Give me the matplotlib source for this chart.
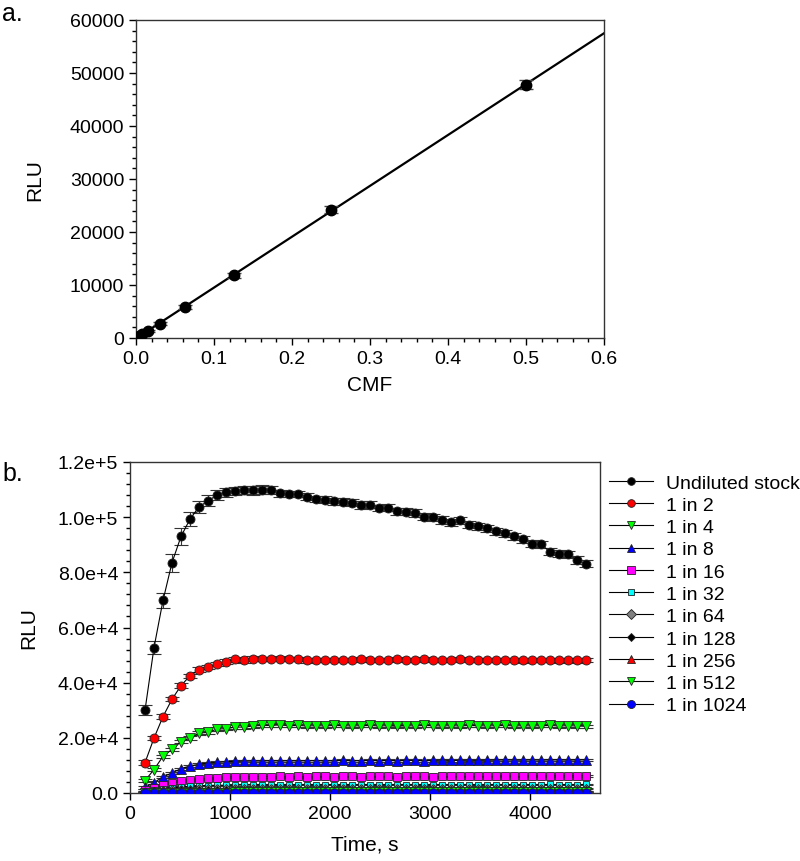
import matplotlib
matplotlib.use("Agg")
import matplotlib.pyplot as plt
import numpy as np
from matplotlib.ticker import MultipleLocator, FuncFormatter

plt.rcParams['font.family'] = ['Liberation Sans', 'DejaVu Sans']

# ---------------- Panel a data ----------------
cmf = [0.5, 0.25, 0.125, 0.0625, 0.03125, 0.015625, 0.0078125, 0.00390625, 0.001953125, 0.0009765625]
rlu_a = [47800, 24200, 11800, 5900, 2700, 1300, 700, 350, 180, 90]
rlu_a_err = [900, 700, 500, 400, 300, 200, 150, 100, 80, 60]

# ---------------- Panel b data ----------------
times = [150, 240, 330, 420, 510, 600, 690, 780, 870, 960,
         1050, 1140, 1230, 1320, 1410, 1500, 1590, 1680, 1770, 1860,
         1950, 2040, 2130, 2220, 2310, 2400, 2490, 2580, 2670, 2760,
         2850, 2940, 3030, 3120, 3210, 3300, 3390, 3480, 3570, 3660,
         3750, 3840, 3930, 4020, 4110, 4200, 4290, 4380, 4470, 4560]

undiluted = [30000, 52700, 69800, 83500, 93000, 99300, 103700, 105900, 108000, 109000,
             109500, 109800, 109700, 110000, 109800, 108600, 108400, 108400, 107400, 106600,
             106400, 105700, 105600, 105300, 104500, 104500, 103300, 103500, 102100, 102000,
             101500, 100200, 99900, 99000, 98100, 98900, 97200, 96700, 95900, 94900,
             94100, 93000, 92000, 90400, 90100, 87500, 86800, 86500, 84500, 83100]
undiluted_err = [1800, 2400, 2800, 3300, 3000, 2600, 2300, 2000, 1800, 1600,
                 1500, 1400, 1500, 1600, 1400, 1200, 1200, 1200, 1300, 1200,
                 1200, 1300, 1200, 1300, 1400, 1300, 1200, 1300, 1300, 1200,
                 1400, 1300, 1200, 1300, 1200, 1300, 1300, 1200, 1300, 1200,
                 1300, 1200, 1300, 1300, 1200, 1300, 1300, 1200, 1400, 1300]
d2 = [11000, 19900, 27700, 34000, 38900, 42500, 44700, 45700, 46800, 47600,
      48400, 48100, 48700, 48600, 48600, 48700, 48600, 48500, 48100, 48200,
      48200, 48300, 48300, 48200, 48400, 48300, 48200, 48300, 48500, 48300,
      48200, 48400, 48300, 48200, 48300, 48400, 48200, 48300, 48200, 48300,
      48200, 48300, 48100, 48200, 48300, 48200, 48100, 48200, 48100, 48200]
d4 = [4500, 8500, 13300, 15800, 18600, 19900, 21700, 22000, 23200, 23300,
      23900, 23900, 24300, 24500, 24500, 24700, 24400, 24500, 24300, 24400,
      24300, 24500, 24400, 24300, 24400, 24500, 24300, 24400, 24200, 24400,
      24300, 24500, 24400, 24300, 24400, 24300, 24500, 24400, 24300, 24400,
      24500, 24300, 24400, 24300, 24400, 24500, 24300, 24400, 24300, 24200]
d8 = [2000, 3800, 5800, 7300, 8800, 9800, 10400, 10800, 11100, 11300,
      11500, 11500, 11600, 11600, 11700, 11600, 11700, 11600, 11700, 11700,
      11600, 11700, 11800, 11700, 11700, 11800, 11700, 11800, 11700, 11800,
      11800, 11700, 11800, 11900, 11800, 11800, 11900, 11800, 11900, 11900,
      12000, 11900, 11900, 12000, 11900, 12000, 12000, 11900, 12000, 12000]
d16 = [1000, 1900, 2900, 3700, 4300, 4800, 5100, 5300, 5500, 5700,
       5800, 5800, 5900, 5900, 5900, 6000, 5900, 6000, 5900, 6000,
       6000, 5900, 6000, 6000, 5900, 6000, 6000, 6000, 5900, 6000,
       6000, 6000, 5900, 6000, 6000, 6000, 6000, 6000, 6000, 6000,
       6100, 6000, 6000, 6100, 6000, 6100, 6100, 6100, 6100, 6200]
d32 = [500, 1000, 1500, 1900, 2200, 2400, 2600, 2700, 2800, 2800,
       2900, 2900, 2900, 3000, 2900, 3000, 2900, 3000, 3000, 2900,
       3000, 3000, 2900, 3000, 3000, 3000, 2900, 3000, 3000, 3000,
       3000, 2900, 3000, 3000, 3000, 3000, 3000, 2900, 3000, 3000,
       3000, 3000, 3000, 3000, 3000, 3100, 3000, 3000, 3000, 3100]
d64 = [250, 500, 750, 950, 1100, 1200, 1300, 1350, 1400, 1400,
       1450, 1450, 1500, 1500, 1450, 1500, 1500, 1500, 1500, 1450,
       1500, 1500, 1500, 1500, 1500, 1500, 1450, 1500, 1500, 1500,
       1500, 1500, 1500, 1500, 1500, 1500, 1500, 1500, 1500, 1500,
       1500, 1500, 1500, 1550, 1500, 1500, 1500, 1550, 1500, 1550]
d128 = [130, 250, 380, 480, 550, 600, 650, 680, 700, 720,
        730, 740, 750, 750, 740, 750, 750, 750, 750, 750,
        750, 750, 740, 750, 750, 750, 750, 750, 750, 750,
        750, 750, 750, 750, 750, 750, 750, 750, 750, 750,
        760, 750, 750, 760, 750, 750, 760, 750, 760, 760]
d256 = [60, 120, 190, 240, 280, 300, 320, 340, 350, 360,
        370, 375, 375, 375, 370, 375, 375, 375, 375, 375,
        375, 375, 375, 375, 375, 375, 375, 375, 375, 375,
        375, 375, 375, 375, 375, 375, 375, 375, 375, 375,
        375, 375, 380, 375, 375, 380, 375, 380, 380, 380]
d512 = [30, 60, 95, 120, 140, 150, 160, 170, 175, 180,
        185, 190, 190, 190, 185, 190, 190, 190, 190, 190,
        190, 190, 190, 190, 190, 190, 190, 190, 190, 190,
        190, 190, 190, 190, 190, 190, 190, 190, 190, 190,
        190, 190, 190, 190, 190, 190, 190, 190, 190, 190]
d1024 = [15, 30, 48, 60, 70, 75, 80, 85, 88, 90,
         92, 95, 95, 95, 93, 95, 95, 95, 95, 95,
         95, 95, 95, 95, 95, 95, 95, 95, 95, 95,
         95, 95, 95, 95, 95, 95, 95, 95, 95, 95,
         95, 95, 95, 95, 95, 95, 95, 95, 95, 95]

labels = ["Undiluted stock", "1 in 2", "1 in 4", "1 in 8", "1 in 16", "1 in 32",
          "1 in 64", "1 in 128", "1 in 256", "1 in 512", "1 in 1024"]
series = [undiluted, d2, d4, d8, d16, d32, d64, d128, d256, d512, d1024]
errors = [undiluted_err, 800, 600, 400, 300, 200, 120, 80, 50, 30, 20]
markers = ['o', 'o', 'v', '^', 's', 's', 'D', 'D', '^', 'v', 'o']
colors = ['black', '#FF0000', '#00FF00', '#0000FF', '#FF00FF', '#00FFFF',
          '#808080', 'black', '#FF0000', '#00FF00', '#0000FF']
msizes = [6.5, 6.5, 6.5, 6.5, 6.0, 5.0, 5.5, 5.0, 6.0, 6.5, 6.8]

W, H = 800, 862
fig = plt.figure(figsize=(W / 100, H / 100), dpi=100)

def px_axes(l, t, r, b):
    return fig.add_axes([l / W, 1 - b / H, (r - l) / W, (b - t) / H])

def style_axes(ax):
    for s in ax.spines.values():
        s.set_linewidth(1.0)
        s.set_color('#333333')
    ax.tick_params(which='both', direction='out', top=False, right=False,
                   labelsize=14, colors='black')
    ax.tick_params(which='major', length=5, width=1)
    ax.tick_params(which='minor', length=3, width=1)

# ---------------- Panel a ----------------
axa = px_axes(136, 21, 604, 339)
slope, intercept = np.polyfit(cmf, rlu_a, 1)
xl = np.array([0.0, 0.6])
axa.plot(xl, slope * xl + intercept, color='black', lw=1.6, zorder=2)
axa.errorbar(cmf, rlu_a, yerr=rlu_a_err, fmt='o', color='black', ms=7.5,
             ecolor='#444444', elinewidth=1, capsize=5, capthick=1, zorder=3)
axa.set_xlim(0, 0.6)
axa.set_ylim(0, 60000)
axa.xaxis.set_major_locator(MultipleLocator(0.1))
axa.xaxis.set_minor_locator(MultipleLocator(0.02))
axa.yaxis.set_major_locator(MultipleLocator(10000))
axa.yaxis.set_minor_locator(MultipleLocator(2000))
axa.xaxis.set_major_formatter(FuncFormatter(lambda v, p: f"{v:.1f}"))
style_axes(axa)
axa.set_xlabel("CMF", fontsize=15, labelpad=6)
axa.set_ylabel("RLU", fontsize=15, labelpad=18)
fig.text(2 / W, 1 - 2 / H, "a.", fontsize=18, ha='left', va='top')

# ---------------- Panel b ----------------
axb = px_axes(130, 463, 600, 794)
handles = []
for y, e, m, c, ms, lab in zip(series, errors, markers, colors, msizes, labels):
    axb.errorbar(times, y, yerr=e, fmt='none', ecolor='#333333', elinewidth=0.8,
                 capsize=5, capthick=0.8, zorder=2)
    h, = axb.plot(times, y, '-', color='black', lw=0.8, marker=m, ms=ms,
                  mfc=c, mec='#222222', mew=0.6, label=lab, zorder=3)
    handles.append(h)
axb.set_xlim(0, 4700)
axb.set_ylim(0, 120000)
axb.xaxis.set_major_locator(MultipleLocator(1000))
axb.yaxis.set_major_locator(MultipleLocator(20000))
axb.yaxis.set_minor_locator(MultipleLocator(4000))

def sci_fmt(v, p):
    if abs(v) < 1e-9:
        return "0.0"
    ex = int(np.floor(np.log10(abs(v)) + 1e-9))
    return f"{v / 10 ** ex:.1f}e+{ex}"

axb.yaxis.set_major_formatter(FuncFormatter(sci_fmt))
style_axes(axb)
axb.set_xlabel("Time, s", fontsize=15, labelpad=9)
axb.set_ylabel("RLU", fontsize=15, labelpad=14)
fig.text(2 / W, 1 - 462 / H, "b.", fontsize=18, ha='left', va='top')

leg = fig.legend(handles=handles, loc='upper left',
                 bbox_to_anchor=(609 / W, 1 - 475 / H), frameon=False,
                 fontsize=14, handlelength=2.25, handletextpad=0.7,
                 labelspacing=0.24, markerscale=0.85, borderaxespad=0,
                 borderpad=0)

fig.savefig("out.png", dpi=100)
